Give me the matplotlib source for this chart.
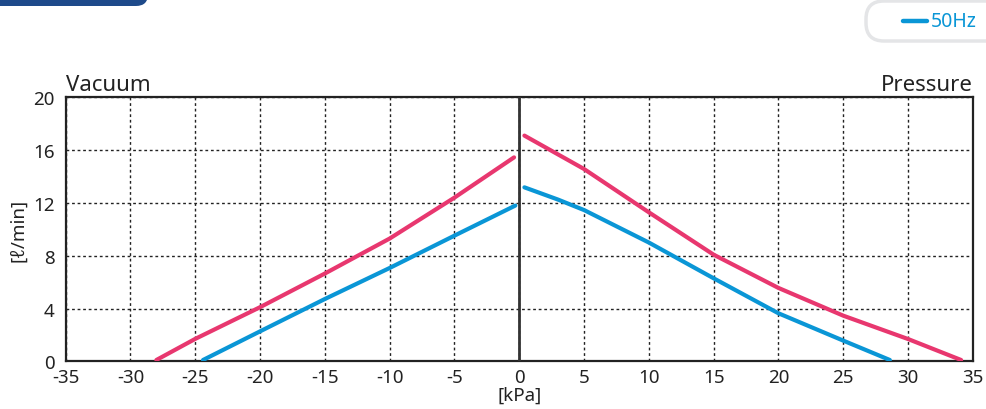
import matplotlib
matplotlib.use("Agg")
import matplotlib.pyplot as plt
from matplotlib.patches import FancyBboxPatch

plt.rcParams['font.family'] = ['Noto Sans', 'DejaVu Sans']
plt.rcParams['axes.unicode_minus'] = False

# data
vac_pink_x = [-28, -25, -20, -15, -10, -5, -0.4]
vac_pink_y = [0.1, 1.7, 4.1, 6.65, 9.3, 12.4, 15.45]
vac_blue_x = [-24.4, -20, -15, -10, -5, -0.3]
vac_blue_y = [0.1, 2.27, 4.72, 7.07, 9.52, 11.8]
pre_pink_x = [0.4, 5, 10, 15, 20, 25, 30, 34.1]
pre_pink_y = [17.1, 14.57, 11.29, 8.08, 5.56, 3.46, 1.69, 0.1]
pre_blue_x = [0.4, 3, 5, 10, 15, 20, 25, 28.6]
pre_blue_y = [13.18, 12.25, 11.46, 9.0, 6.29, 3.64, 1.57, 0.1]
x_ticks = list(range(-35, 36, 5))
y_ticks = [0, 4, 8, 12, 16, 20]

PINK = '#e8376f'
BLUE = '#0a96d6'
TXT = '#222222'

fig = plt.figure(figsize=(9.86, 4.10), dpi=100)
ax = fig.add_axes([0.0666, 0.1163, 0.92, 0.6439])

for xs, ys, c in [(vac_pink_x, vac_pink_y, PINK), (vac_blue_x, vac_blue_y, BLUE),
                  (pre_pink_x, pre_pink_y, PINK), (pre_blue_x, pre_blue_y, BLUE)]:
    ax.plot(xs, ys, color=c, lw=3.0, solid_capstyle='round', solid_joinstyle='round', zorder=3)

ax.axvline(0, color='#333333', lw=2.0, zorder=4)
ax.set_xlim(-35, 35)
ax.set_ylim(0, 20)
ax.set_xticks(x_ticks)
ax.set_yticks(y_ticks)
ax.grid(True, color=TXT, linestyle=(0, (2, 2)), lw=1.0)
ax.tick_params(axis='both', length=0, labelsize=13.5, colors=TXT)
ax.tick_params(axis='x', pad=4.5)
ax.tick_params(axis='y', pad=8)
for s in ax.spines.values():
    s.set_color(TXT)
    s.set_linewidth(1.6)
ax.set_xlabel('[kPa]', fontsize=13.5, labelpad=0, color=TXT)
ax.set_ylabel('[ℓ/min]', fontsize=13.5, labelpad=4, color=TXT)
ax.text(0.0, 1.01, 'Vacuum', transform=ax.transAxes, ha='left', va='bottom', fontsize=16, color=TXT)
ax.text(1.0, 1.01, 'Pressure', transform=ax.transAxes, ha='right', va='bottom', fontsize=16, color=TXT)

# overlay decorations in pixel coordinates
ov = fig.add_axes([0, 0, 1, 1], zorder=-1)
ov.set_xlim(0, 986)
ov.set_ylim(410, 0)
ov.axis('off')
ov.add_patch(FancyBboxPatch((-40, -20), 188, 27, boxstyle='round,pad=0,rounding_size=12',
                            facecolor='#1e4a8a', edgecolor='none'))
ov.add_patch(FancyBboxPatch((866, 2), 160, 40, boxstyle='round,pad=0,rounding_size=18',
                            facecolor='white', edgecolor='#e4e5e7', lw=2.5))
ov.plot([903, 927], [22, 22], color=BLUE, lw=3.2, solid_capstyle='round')
ov.text(931, 22, '50Hz', color=BLUE, fontsize=14, ha='left', va='center')

fig.savefig('out.png', dpi=100)
